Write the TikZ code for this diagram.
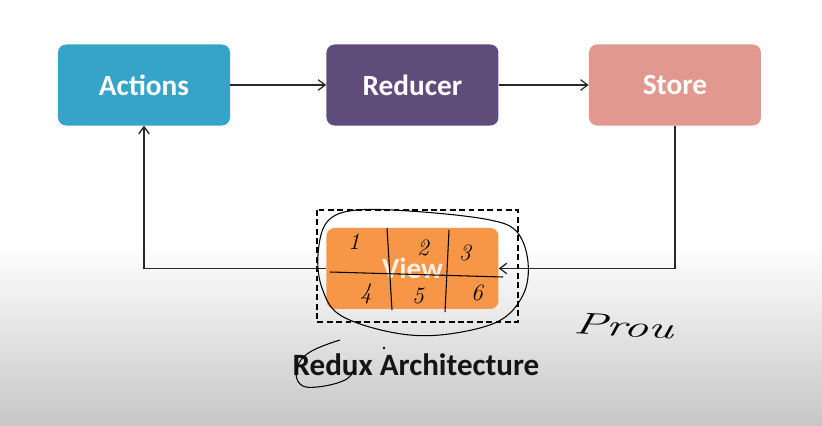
\documentclass[tikz,border=0pt]{standalone}
\usepackage{fontspec}
\newfontfamily\boxfont{Carlito}
\usetikzlibrary{arrows.meta, positioning, shapes.geometric}

\definecolor{actionblue}{RGB}{54,163,201}
\definecolor{reducerpurple}{RGB}{96,76,123}
\definecolor{storepink}{RGB}{224,152,143}
\definecolor{vieworange}{RGB}{247,150,70}
\definecolor{linegray}{RGB}{40,40,40}

\begin{document}
\begin{tikzpicture}[
    x=0.03cm, y=-0.03cm,
    block/.style={rectangle, rounded corners=7pt, minimum width=5.16cm, minimum height=2.43cm, text=white, font=\boxfont\fontsize{25}{28}\selectfont\bfseries},
    arrow/.style={-{Straight Barb[length=6pt, width=9pt, line width=1.1pt]}, line width=1.3pt, color=linegray},
    pen/.style={line width=0.9pt, color=black},
    digit/.style={font=\itshape\fontsize{20}{22}\selectfont, inner sep=0pt},
    node distance=2.88cm
]

% Background
\useasboundingbox (0,0) rectangle (822,425);
\fill[white] (0,0) rectangle (822,246);
\shade[top color=white, bottom color=black!22] (0,245) rectangle (822,425);

% Top row
\node[block, fill=actionblue] (actions) at (144,85) {Actions};
\node[block, fill=reducerpurple, right=2.88cm of actions] (reducer) {Reducer};
\node[block, fill=storepink, right=2.7cm of reducer] (store) {Store};

% View
\node[block, fill=vieworange, below=3.06cm of reducer, text opacity=0.85] (view) {View};

% Data flow arrows
\draw[arrow] (actions) -- (reducer);
\draw[arrow] (reducer) -- (store);
\draw[arrow] (store.south) |- (view.east);
\draw[arrow] (view.west) -| (actions.south);

% Title
\node[font=\boxfont\fontsize{26.5}{29}\selectfont\bfseries, text=black!92] (title) at (416,365) {Redux Architecture};

% Annotations
\draw[pen, line width=1.1pt, dash pattern=on 5pt off 3pt] (317,210) rectangle (518,322);
\draw[pen] plot[smooth cycle, tension=0.6] coordinates {(327,222) (357,210) (423,212) (490,220) (517,232) (528,262) (523,295) (497,322) (440,335) (390,332) (340,315) (322,288) (318,255)};
\draw[pen] (387,228) -- (392,310);
\draw[pen] (449,230) -- (445,312);
\draw[pen] (330,272) -- (503,277);
\node[digit] (n1) at (354,242) {1};
\node[digit] (n2) at (423,248) {2};
\node[digit] (n3) at (465,253) {3};
\node[digit] (n4) at (366,294) {4};
\node[digit] (n5) at (418,296) {5};
\node[digit] (n6) at (477,293) {6};
\draw[pen] plot[smooth, tension=0.7] coordinates {(340,340) (310,352) (297,368) (300,384) (317,387) (345,380) (355,368)};
\fill (384,348) circle (1.3);
\node[font=\itshape\fontsize{26}{28}\selectfont, xscale=1.6, rotate=-5, inner sep=0pt] (prou) at (624,326) {Prou};

\end{tikzpicture}
\end{document}
